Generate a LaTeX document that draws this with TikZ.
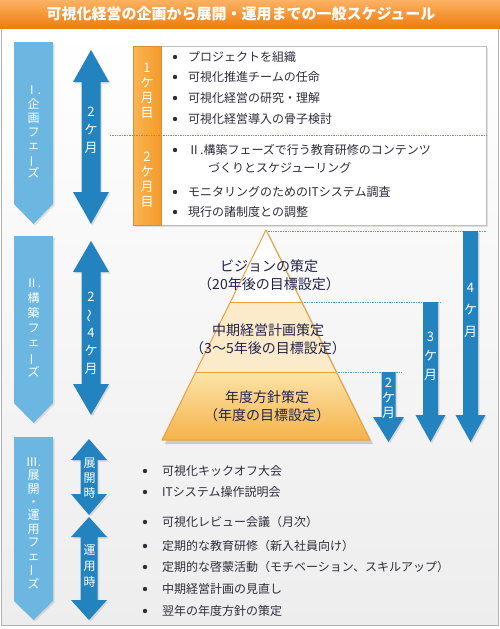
\documentclass[tikz,border=0pt]{standalone}
\usepackage{fontspec}
\setmainfont{Noto Sans CJK JP}
\usepackage{graphicx}
\usetikzlibrary{shadows,calc}
\definecolor{titleA}{HTML}{FBB262}
\definecolor{titleM}{HTML}{F6902C}
\definecolor{titleB}{HTML}{EE7C0E}
\definecolor{phaseblue}{HTML}{6CB6E2}
\definecolor{darkblue}{HTML}{2283BE}
\definecolor{orangeA}{HTML}{FAB550}
\definecolor{orangeB}{HTML}{F49A2C}
\definecolor{txt}{HTML}{2E2E3C}
\definecolor{pyrtxt}{HTML}{22244A}
\definecolor{pyrline}{HTML}{E6A23E}
\definecolor{dotblue}{HTML}{4FA0C8}
\definecolor{midfill}{HTML}{FBEBCB}
\definecolor{lowA}{HTML}{FCE4A8}
\definecolor{lowB}{HTML}{F5B24A}
\newcommand\DblArrow[6]{% cx, top, bottom, headlen, headhalf, shafthalf
  \fill[darkblue,softshadow] (#1,#2) -- (#1+#5,#2+#4) -- (#1+#6,#2+#4) -- (#1+#6,#3-#4) -- (#1+#5,#3-#4) -- (#1,#3)
    -- (#1-#5,#3-#4) -- (#1-#6,#3-#4) -- (#1-#6,#2+#4) -- (#1-#5,#2+#4) -- cycle;}
\newcommand\DownArr[6]{% cx, top, headtop, tip, shafthalf, headhalf
  \fill[darkblue,softshadow] (#1-#5,#2) -- (#1+#5,#2) -- (#1+#5,#3) -- (#1+#6,#3) -- (#1,#4) -- (#1-#6,#3) -- (#1-#5,#3) -- cycle;}
\newcommand\PhaseArr[4]{% top, shoulder, tip, name
  \fill[phaseblue,softshadow] (14,#1) -- (53,#1) -- (53,#2) -- (33.5,#3) -- (14,#2) -- cycle;}
\newcommand\VBar{\rotatebox[origin=c]{90}{ー}}
\begin{document}
\begin{tikzpicture}[x=1pt,y=-1pt,
  softshadow/.style={drop shadow={opacity=0.22,shadow xshift=1.5pt,shadow yshift=-1.5pt}},
  vtext/.style={text=white,align=center,inner sep=0pt},
  bul/.style={anchor=west,text=txt,font=\fontsize{12}{14}\selectfont,inner sep=0pt},
  dotl/.style={dotblue,densely dotted,line width=0.7pt},
  pyr/.style={text=pyrtxt,font=\fontsize{14}{18}\selectfont,align=center,inner sep=0pt}]
\useasboundingbox (0,0) rectangle (500,629);
\fill[white] (0,0) rectangle (500,629);
% frame
\shade[top color=white,bottom color=black!7] (1.5,28) rectangle (498.5,625);
\draw[black!30,line width=1pt] (1.5,28) rectangle (498.5,625);
% title
\shade[top color=titleA,middle color=titleM,bottom color=titleB] (0,0) rectangle (500,28);
\node[text=white,font=\fontsize{15}{15}\selectfont\bfseries,inner sep=0pt] (title) at (241,14) {可視化経営の企画から展開・運用までの一般スケジュール};
% phase arrows
\PhaseArr{42}{204}{224}{p1}
\PhaseArr{236}{403}{423}{p2}
\PhaseArr{437}{601}{620}{p3}
\node[vtext,font=\fontsize{12}{13.8}\selectfont] (p1t) at (33.5,132) {Ⅰ.\\企\\画\\フ\\ェ\\\VBar\\ズ};
\node[vtext,font=\fontsize{12}{14.8}\selectfont] (p2t) at (33.5,328) {Ⅱ.\\構\\築\\フ\\ェ\\\VBar\\ズ};
\node[vtext,font=\fontsize{12}{13.4}\selectfont] (p3t) at (33.5,523) {Ⅲ.\\展\\開\\・\\運\\用\\フ\\ェ\\\VBar\\ズ};
% double arrows
\DblArrow{91}{50}{224}{32}{18}{9.5}
\DblArrow{91}{241}{415}{31}{18}{9.5}
\DblArrow{89}{439}{515}{21}{18}{8.5}
\DblArrow{89}{517}{620}{20}{18}{8.5}
\node[vtext,font=\fontsize{13}{18}\selectfont] (a1t) at (91,130) {2\\ケ\\月};
\node[vtext,font=\fontsize{13}{18}\selectfont] (a2t) at (91,333) {2\\\rotatebox[origin=c]{90}{〜}\\4\\ケ\\月};
\node[vtext,font=\fontsize{12}{15}\selectfont] (a3t) at (89.5,478) {展\\開\\時};
\node[vtext,font=\fontsize{12}{16}\selectfont] (a4t) at (89.5,566) {運\\用\\時};
% upper box
\fill[white,softshadow] (133,46) rectangle (486,225);
\draw[black!25] (133,46) rectangle (486,225);
\shade[left color=orangeA,right color=orangeB] (133,46) rectangle (161,225);
\draw[orangeB!85!black!90] (133,46) rectangle (161,225);
\draw[dotl] (110,135) -- (486,135);
\node[vtext,font=\fontsize{13}{15}\selectfont] (m1) at (147,91) {1\\ケ\\月\\目};
\node[vtext,font=\fontsize{13}{15}\selectfont] (m2) at (147,180) {2\\ケ\\月\\目};
\foreach \yy/\tt [count=\i] in {57/プロジェクトを組織,77/可視化推進チームの任命,98/可視化経営の研究・理解,119/可視化経営導入の骨子検討,150/Ⅱ.構築フェーズで行う教育研修のコンテンツ,192/モニタリングのためのITシステム調査,212/現行の諸制度との調整}{
  \fill[txt] (175,\yy) circle (2.2);
  \node[bul] (u\i) at (188,\yy) {\tt};
}
\node[bul] (u2b) at (208,168) {づくりとスケジューリング};
% dotted guides
\draw[dotl] (266,231) -- (487,231);
\draw[dotl] (302,302) -- (441,302);
\draw[dotl] (336,372) -- (402,372);
% right arrows
\DownArr{470.5}{231}{415}{442}{7.5}{15}
\DownArr{430.5}{302}{415}{442}{7.5}{15}
\DownArr{388.5}{372}{417}{442}{7}{15.5}
\node[vtext,font=\fontsize{13}{22}\selectfont] (r4) at (470.5,310) {4\\ケ\\月};
\node[vtext,font=\fontsize{13}{19}\selectfont] (r3) at (430.5,356) {3\\ケ\\月};
\node[vtext,font=\fontsize{13}{15}\selectfont] (r2) at (388.5,398) {2\\ケ\\月};
% pyramid
\fill[white,drop shadow={opacity=0.35,shadow xshift=3pt,shadow yshift=-4pt}] (266,230) -- (370,440) -- (162,440) -- cycle;
\fill[midfill] (230.3,302) -- (301.7,302) -- (336.3,372) -- (195.7,372) -- cycle;
\shade[top color=lowA,bottom color=lowB] (195.7,372) -- (336.3,372) -- (370,440) -- (162,440) -- cycle;
\draw[pyrline,line width=1pt,line join=round] (266,230) -- (370,440) -- (162,440) -- cycle;
\draw[pyrline,line width=1pt] (230.3,302) -- (301.7,302) (195.7,372) -- (336.3,372);
\node[pyr] (y1) at (269,275) {ビジョンの策定\\（20年後の目標設定）};
\node[pyr] (y2) at (268,339) {中期経営計画策定\\（3〜5年後の目標設定）};
\node[pyr] (y3) at (267,406) {年度方針策定\\（年度の目標設定）};
% lower bullets
\foreach \yy/\tt [count=\i] in {471/可視化キックオフ大会,492/ITシステム操作説明会,522/可視化レビュー会議（月次）,546/定期的な教育研修（新入社員向け）,567/定期的な啓蒙活動（モチベーション、スキルアップ）,589/中期経営計画の見直し,611/翌年の年度方針の策定}{
  \fill[txt] (145,\yy) circle (2.2);
  \node[bul] (l\i) at (162,\yy) {\tt};
}
\end{tikzpicture}
\end{document}
